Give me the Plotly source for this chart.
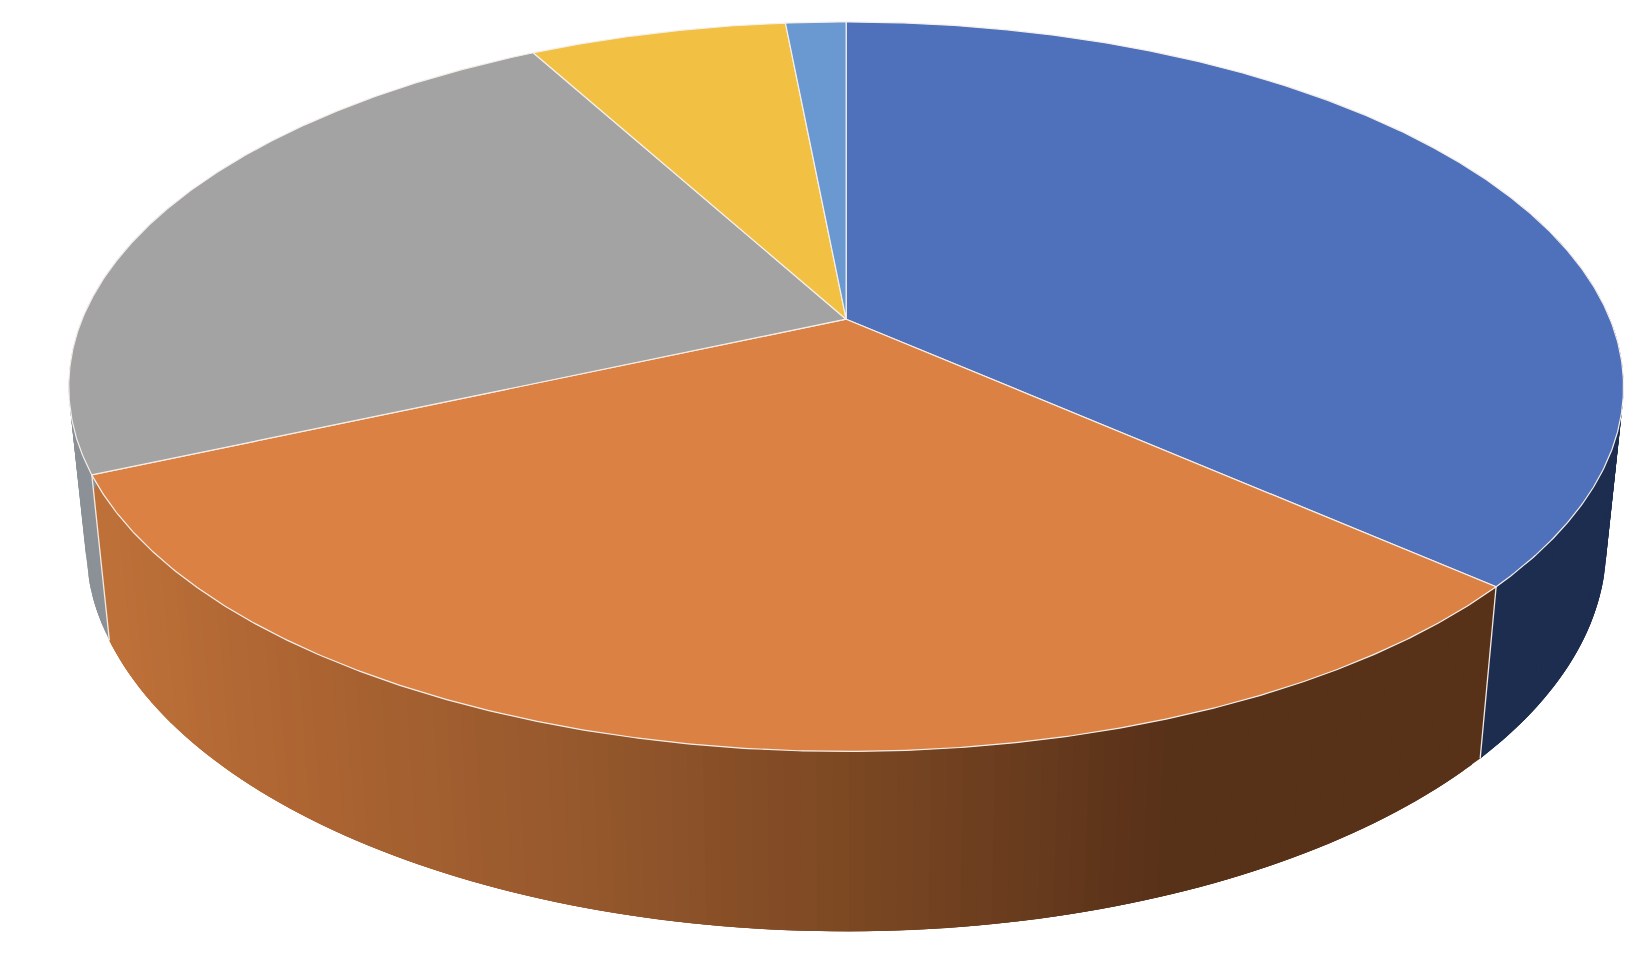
import numpy as np
import plotly.graph_objects as go

# Data (share of the pie, percent)
categories = ["Slice 1", "Slice 2", "Slice 3", "Slice 4", "Slice 5"]
values = [36.6, 31.7, 23.8, 6.4, 1.5]
top_colors = ["#4F71BC", "#DB8144", "#A3A3A3", "#F2C043", "#6A98D0"]

SCALE = 1641 / 1568
CX, CY = 808.5 * SCALE, 305 * SCALE
A, B, C = 730 * SCALE, 336.6 * SCALE, 153 * SCALE
K, D = -0.185, 0.022


def project(theta_deg, r=1.0, h=0.0):
    t = np.radians(theta_deg)
    u, v = r * np.sin(t), -r * np.cos(t)
    w = 1 + K * v + D * h
    return CX + A * u / w, CY + (B * v + C * h) / w


def mix(stops, x):
    xs = [s[0] for s in stops]
    rgb = [np.interp(x, xs, [s[1][i] for s in stops]) for i in range(3)]
    return "rgb(%d,%d,%d)" % tuple(int(round(c)) for c in rgb)


side_stops = [
    [  # blue side
        (0, (29, 45, 80)), (1641, (29, 45, 80)),
    ],
    [  # orange side
        (110, (189, 112, 56)), (300, (172, 100, 50)), (600, (148, 87, 44)),
        (850, (124, 72, 35)), (1170, (88, 49, 25)), (1641, (88, 49, 25)),
    ],
    [  # gray side
        (0, (139, 145, 150)), (1641, (139, 145, 150)),
    ],
    [(0, (170, 130, 40)), (1641, (170, 130, 40))],
    [(0, (60, 90, 130)), (1641, (60, 90, 130))],
]

total = sum(values)
edges = np.concatenate([[0], np.cumsum(values)]) * 360 / total

fig = go.Figure()

# side walls, seen only on the near half of the pie
# each band runs on under the next one, so no seam shows between them
for i, name in enumerate(categories):
    a0, a1 = edges[i], edges[i + 1]
    lo, hi = max(a0, 70), min(a1, 290)
    if hi <= lo:
        continue
    n = max(2, int((hi - lo) / 1.0))
    ts = np.linspace(lo, hi, n + 1)
    for k, t0 in enumerate(ts[:-1]):
        t1 = ts[min(k + 3, n)]
        seg = np.linspace(t0, t1, 5)
        xt, yt = project(seg)
        xb, yb = project(seg[::-1], h=1.0)
        col = mix(side_stops[i], float(project(t0 + (hi - lo) / n / 2)[0]))
        fig.add_trace(go.Scatter(
            x=np.concatenate([xt, xb, xt[:1]]), y=np.concatenate([yt, yb, yt[:1]]),
            mode="lines", fill="toself", fillcolor=col,
            line=dict(color=col, width=0), hoverinfo="skip", showlegend=False))

# white seams between the side walls
for e in edges[1:3]:
    x0, y0 = project(e)
    x1, y1 = project(e, h=1.0)
    fig.add_trace(go.Scatter(x=[x0, x1], y=[y0, y1], mode="lines",
                             line=dict(color="#F3E9E0", width=1.3),
                             hoverinfo="skip", showlegend=False))

# top faces
for i, name in enumerate(categories):
    ts = np.linspace(edges[i], edges[i + 1], max(3, int(values[i] * 12)))
    xa, ya = project(ts)
    x0, y0 = project(0.0, r=0.0)
    fig.add_trace(go.Scatter(
        x=np.concatenate([[x0], xa, [x0]]), y=np.concatenate([[y0], ya, [y0]]),
        mode="lines", fill="toself", fillcolor=top_colors[i], name=name,
        line=dict(color="#F5EFEA", width=1.2), showlegend=False))

fig.update_layout(
    width=1641, height=974, margin=dict(l=0, r=0, t=0, b=0),
    paper_bgcolor="white", plot_bgcolor="white", showlegend=False,
    xaxis=dict(visible=False, range=[0, 1641], fixedrange=True),
    yaxis=dict(visible=False, range=[974, 0], fixedrange=True),
)
fig.write_html("out.html", post_script="document.body.style.margin='0';",
               config={"displayModeBar": False})
